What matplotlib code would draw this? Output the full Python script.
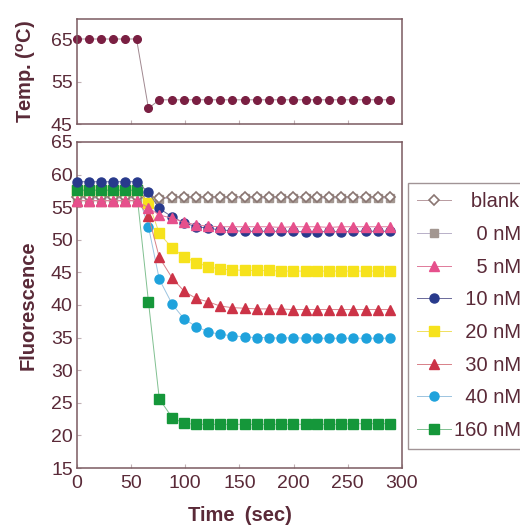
import matplotlib
matplotlib.use("Agg")
import matplotlib.pyplot as plt

plt.rcParams['font.family'] = ['Liberation Sans', 'DejaVu Sans']

time_s = [0, 11, 22, 33, 44, 55, 66, 76, 88, 99, 110, 121, 132, 143, 155, 166,
          177, 188, 199, 211, 222, 233, 244, 255, 267, 278, 289]

temp_c = [65, 65, 65, 65, 65, 65, 48.7] + [50.7] * 20

blank = [56.6] * 6 + [56.5, 56.4, 56.6, 56.6, 56.6, 56.6, 56.6, 56.6, 56.6, 56.6,
                      56.6, 56.6, 56.6, 56.6, 56.6, 56.6, 56.6, 56.6, 56.6, 56.6, 56.6]
nm0 = [56.4] * 6 + [56.3, 56.3, 56.4, 56.4, 56.4, 56.4, 56.4, 56.4, 56.4, 56.4,
                    56.4, 56.4, 56.4, 56.4, 56.4, 56.4, 56.4, 56.4, 56.4, 56.4, 56.4]
nm5 = [56.0] * 6 + [54.9, 53.8, 53.3, 52.7, 52.3, 52.1, 52.0, 52.0, 52.0, 52.0,
                    52.0, 51.9, 52.0, 52.0, 52.0, 51.9, 52.0, 52.0, 52.0, 52.0, 52.0]
nm10 = [58.9] * 6 + [57.3, 54.8, 53.5, 52.6, 52.0, 51.8, 51.5, 51.4, 51.3, 51.3,
                     51.3, 51.3, 51.3, 51.2, 51.2, 51.3, 51.2, 51.3, 51.3, 51.3, 51.3]
nm20 = [57.6] * 6 + [55.7, 51.0, 48.7, 47.4, 46.5, 45.9, 45.5, 45.4, 45.3, 45.3,
                     45.3, 45.2, 45.2, 45.2, 45.2, 45.2, 45.2, 45.2, 45.2, 45.2, 45.2]
nm30 = [56.0] * 6 + [53.65, 47.3, 44.1, 42.1, 41.0, 40.5, 39.85, 39.6, 39.5, 39.4,
                     39.4, 39.4, 39.3, 39.3, 39.3, 39.3, 39.3, 39.3, 39.3, 39.3, 39.3]
nm40 = [57.6] * 6 + [52.0, 43.95, 40.1, 37.85, 36.7, 35.9, 35.5, 35.3, 35.1, 35.0,
                     35.0, 34.9, 35.0, 34.9, 34.9, 34.9, 34.9, 34.9, 34.9, 34.9, 34.9]
nm160 = [57.6] * 6 + [40.5, 25.6, 22.7, 21.85, 21.7, 21.7, 21.7, 21.7, 21.7, 21.7,
                      21.7, 21.7, 21.7, 21.7, 21.7, 21.7, 21.7, 21.8, 21.8, 21.8, 21.8]

labels = ["blank", "0 nM", "5 nM", "10 nM", "20 nM", "30 nM", "40 nM", "160 nM"]
series = [blank, nm0, nm5, nm10, nm20, nm30, nm40, nm160]
legend_labels = ["\u2007 blank", "\u2007\u20070 nM", "\u2007\u20075 nM", "\u200710 nM",
                 "\u200720 nM", "\u200730 nM", "\u200740 nM", "160 nM"]

styles = [
    dict(marker='D', mfc='white', mec='#8a7672', color='#b89aa0', ms=5.5, mew=1.2),
    dict(marker='s', mfc='#a39791', mec='#a39791', color='#b8b0c8', ms=6),
    dict(marker='^', mfc='#e6508c', mec='#e6508c', color='#e07a9a', ms=7),
    dict(marker='o', mfc='#283a8c', mec='#283a8c', color='#6a6a9a', ms=6.5),
    dict(marker='s', mfc='#f6e21c', mec='#f6e21c', color='#f0e060', ms=6.5),
    dict(marker='^', mfc='#cc3347', mec='#cc3347', color='#d88088', ms=7),
    dict(marker='o', mfc='#1fa2dc', mec='#1fa2dc', color='#9cc4e0', ms=6.5),
    dict(marker='s', mfc='#15973a', mec='#15973a', color='#80c090', ms=6.5),
]

txt = '#5a2a38'
spine = '#7a5a60'

fig = plt.figure(figsize=(5.2, 5.28), dpi=100)
ax_t = fig.add_axes([0.148, 0.765, 0.625, 0.199])
ax = fig.add_axes([0.148, 0.1136, 0.625, 0.6175])

# temperature panel
ax_t.plot(time_s, temp_c, color='#a08890', lw=0.7, marker='o', ms=5.5,
          mfc='#7a1f42', mec='#7a1f42', clip_on=False)
ax_t.set_xlim(0, 300)
ax_t.set_ylim(45, 69.7)
ax_t.set_yticks([45, 55, 65])
ax_t.set_xticks([0, 50, 100, 150, 200, 250, 300])
ax_t.set_ylabel("Temp. ($\\mathregular{^{o}}$C)", fontsize=14.5, fontweight='bold',
                color=txt)
ax_t.yaxis.set_label_coords(-0.12, 0.5)

# fluorescence panel (drawing order chosen so overlaps match the figure)
order = [1, 0, 4, 6, 5, 7, 3, 2]
handles = [None] * len(series)
for z, i in enumerate(order):
    st = styles[i]
    ln, = ax.plot(time_s, series[i], lw=0.7, color=st['color'], marker=st['marker'],
                  ms=st['ms'], mfc=st['mfc'], mec=st['mec'],
                  mew=st.get('mew', 1.0), clip_on=False, label=labels[i], zorder=2 + z)
    handles[i] = ln
ax.set_xlim(0, 300)
ax.set_ylim(15, 65)
ax.set_yticks(range(15, 66, 5))
ax.set_xticks([0, 50, 100, 150, 200, 250, 300])
ax.set_ylabel("Fluorescence", fontsize=14.5, fontweight='bold', color=txt)
ax.yaxis.set_label_coords(-0.12, 0.5)
ax.set_xlabel("Time\u2002(sec)", fontsize=14.5, fontweight='bold', color=txt, labelpad=10)

for a in (ax, ax_t):
    for s in a.spines.values():
        s.set_color(spine)
        s.set_linewidth(1.1)
    a.tick_params(axis='both', direction='in', length=3, color='#c0b0b4',
                  labelsize=14, labelcolor=txt, pad=3)
ax.tick_params(axis='x', pad=5)
ax_t.tick_params(axis='x', labelbottom=False)

leg = fig.legend(handles, legend_labels, loc='upper left',
                 bbox_to_anchor=(0.785, 0.653), bbox_transform=fig.transFigure,
                 fontsize=14.5, frameon=True, fancybox=False, handlelength=1.7,
                 handletextpad=0.1, labelspacing=0.68, borderpad=0.45,
                 borderaxespad=0)
leg.get_frame().set_edgecolor('#8a7a7c')
leg.get_frame().set_linewidth(1.0)
for t in leg.get_texts():
    t.set_color(txt)

fig.savefig("out.png", dpi=100)
